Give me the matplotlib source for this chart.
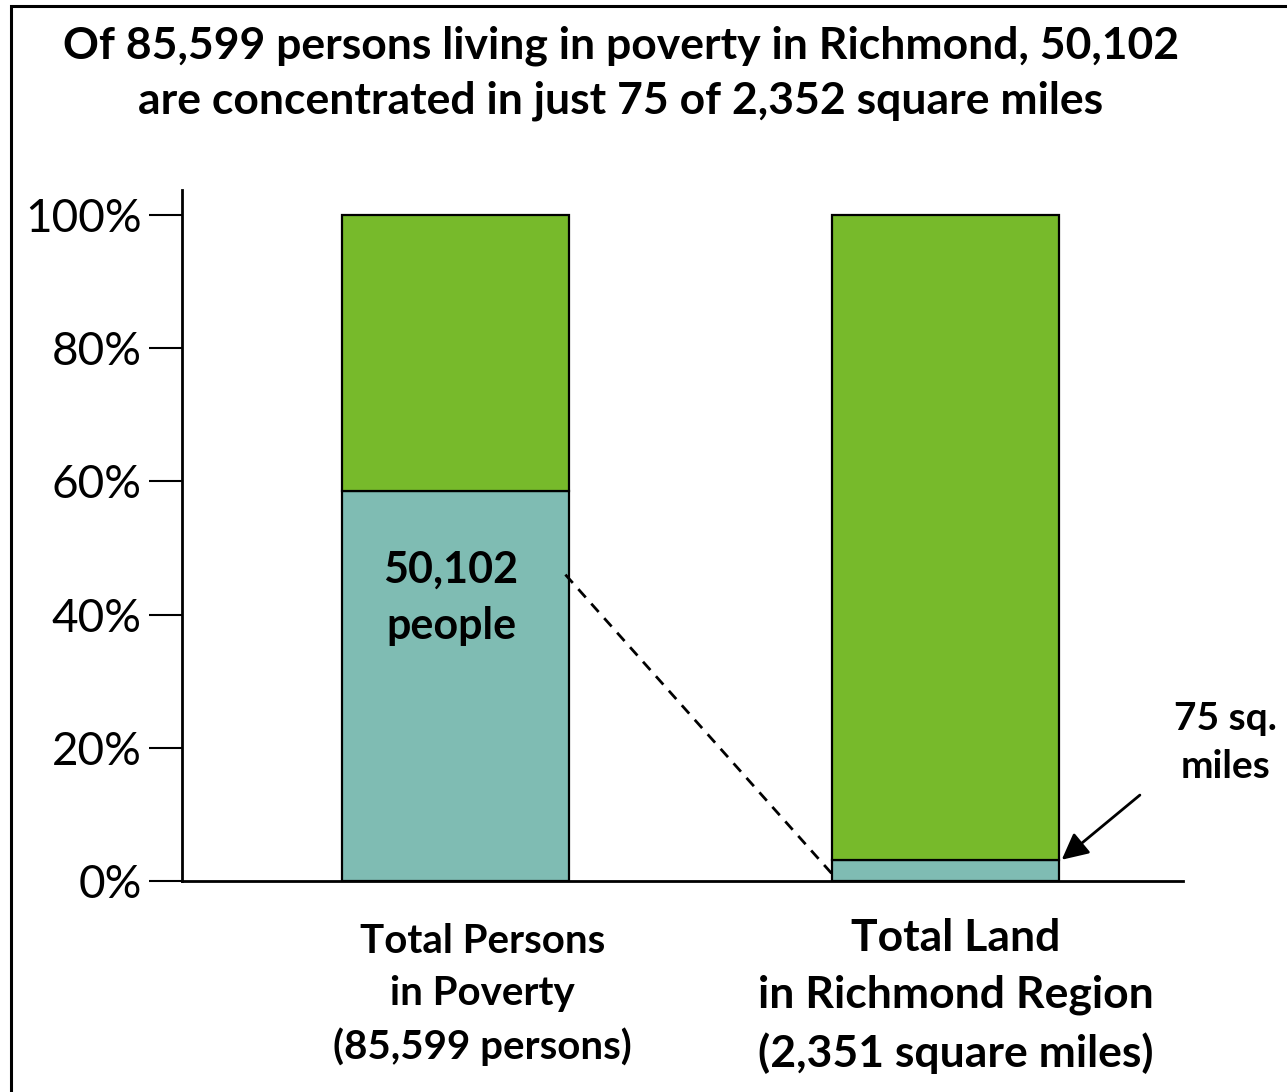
import matplotlib.pyplot as plt
from matplotlib.patches import Rectangle

# bar categories and their totals
categories = ["Total Persons\nin Poverty\n(85,599 persons)",
              "Total Land\nin Richmond Region\n(2,351 square miles)"]
totals = [85599, 2351]
concentrated = [50102, 75]
y_ticks = [0, 20, 40, 60, 80, 100]
tick_labels = ["0%", "20%", "40%", "60%", "80%", "100%"]

teal = "#7FBCB3"
green = "#77BA2B"

share = [c / t * 100 for c, t in zip(concentrated, totals)]
rest = [100 - s for s in share]

plt.rcParams['font.family'] = ['Lato', 'DejaVu Sans']

W, H = 1287, 1092
fig = plt.figure(figsize=(W / 100, H / 100), dpi=100)

# frame around the figure (left and top edges visible)
fig.patches.append(Rectangle((11 / W, -0.1), 1.2, (1092 - 6) / H + 0.1,
                             transform=fig.transFigure, fill=False,
                             edgecolor="black", linewidth=2.2))

ax = fig.add_axes([182 / W, (H - 881) / H, (1183 - 182) / W, (881 - 190) / H])
x = [0, 1]
width = 0.463
ax.bar(x, share, width, color=teal, edgecolor="black", linewidth=1.6)
ax.bar(x, rest, width, bottom=share, color=green, edgecolor="black", linewidth=1.6)

ax.set_xlim(-0.559, 1.484)
ax.set_ylim(0, 103.75)
ax.set_yticks(y_ticks)
ax.set_yticklabels(tick_labels, fontsize=33)
ax.tick_params(axis="y", direction="out", length=24, width=1.5, pad=5)
ax.set_xticks([])
for side in ["top", "right"]:
    ax.spines[side].set_visible(False)
ax.spines["left"].set_linewidth(2)
ax.spines["bottom"].set_linewidth(2)

# category labels under each bar
ax.text(0.055, -6.3, categories[0], ha="center", va="top", fontsize=29,
        fontweight="bold", linespacing=1.5)
ax.text(1.02, -5.6, categories[1], ha="center", va="top", fontsize=32,
        fontweight="bold", linespacing=1.5)

ax.text(-0.01, 42.5, "{:,}\npeople".format(concentrated[0]), ha="center",
        va="center", fontsize=31, fontweight="bold", linespacing=1.5)

# dashed connector from the people segment to the land segment
ax.plot([x[0] + width / 2 - 0.008, x[1] - width / 2], [46, 1],
        linestyle=(0, (4, 3)), color="black", linewidth=2)

ax.text(1.57, 14.5, "{} sq.\nmiles".format(concentrated[1]), ha="center",
        va="bottom", fontsize=28, fontweight="bold", linespacing=1.45)
ax.annotate("", xy=(x[1] + width / 2 + 0.005, share[1]),
            xytext=(1.396, 12.9), annotation_clip=False,
            arrowprops=dict(arrowstyle="-|>", color="black", lw=2,
                            mutation_scale=40, shrinkA=0, shrinkB=0))

fig.text(621 / W, 1 - 26 / H,
         "Of 85,599 persons living in poverty in Richmond, 50,102\n"
         "are concentrated in just 75 of 2,352 square miles",
         ha="center", va="top", fontsize=32, fontweight="bold",
         linespacing=1.42, transform=fig.transFigure)

fig.savefig("out.png", dpi=100, facecolor="white")
